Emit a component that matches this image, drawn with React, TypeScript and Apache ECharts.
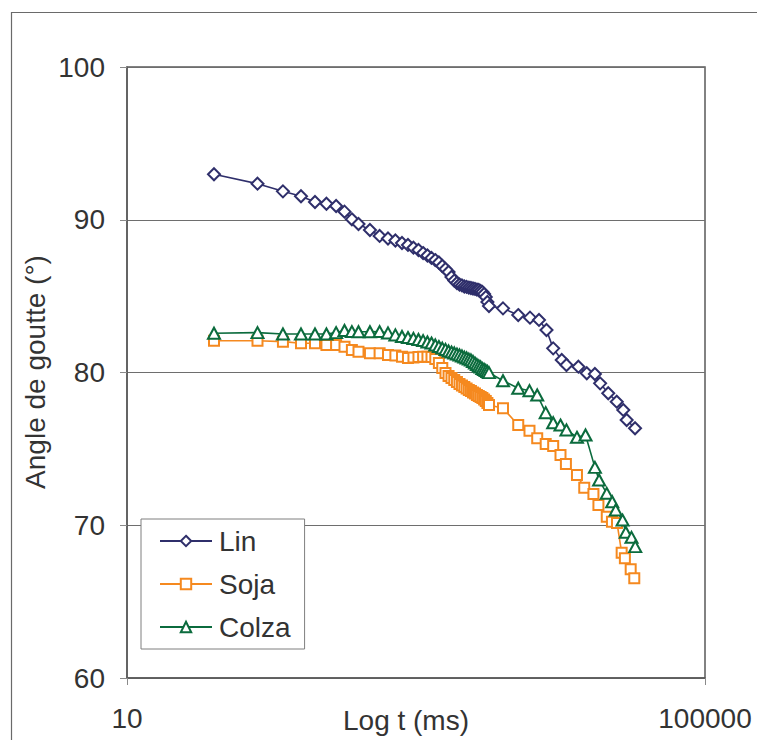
import React, { useEffect, useRef } from "react";
import * as echarts from "echarts";

const seriesNames = ["Lin", "Soja", "Colza"];
const xTickValues = [10, 100000];
const yTicks = { min: 60, max: 100, interval: 10 };

// shared sampling times (ms) of the early, dense part of every curve
const denseTimes = [40, 80, 120, 160, 200, 240, 280, 320, 360, 400, 480, 560, 640, 720, 800, 880, 960, 1040, 1120, 1200, 1280, 1360, 1440, 1520, 1600, 1680, 1760, 1840, 1920, 2000, 2080, 2160, 2240, 2320, 2400, 2480, 2560, 2640, 2720, 2800, 2880, 2960, 3040, 3120, 3200];

const linDense = [92.98, 92.36, 91.86, 91.54, 91.16, 91.05, 90.9, 90.53, 90.03, 89.72, 89.33, 88.94, 88.77, 88.64, 88.48, 88.35, 88.17, 88.02, 87.82, 87.66, 87.5, 87.36, 87.2, 86.97, 86.78, 86.58, 86.25, 86.02, 85.86, 85.76, 85.7, 85.63, 85.6, 85.56, 85.53, 85.5, 85.47, 85.43, 85.4, 85.34, 85.27, 85.14, 84.94, 84.62, 84.35];
const linTailTimes = [4000, 5100, 6150, 7100, 8000, 8900, 10200, 11000, 13300, 15200, 17300, 18800, 21400, 24500, 27200, 28700, 32800];
const linTailValues = [84.2, 83.76, 83.59, 83.44, 82.78, 81.58, 80.82, 80.49, 80.38, 79.95, 79.9, 79.29, 78.64, 78.09, 77.55, 76.89, 76.35];

const sojaDense = [82.08, 82.08, 82.02, 81.91, 81.91, 81.8, 81.8, 81.69, 81.47, 81.36, 81.26, 81.26, 81.15, 81.11, 81.03, 80.95, 80.98, 81.01, 81.03, 81.03, 81.01, 80.88, 80.62, 80.29, 79.97, 79.77, 79.64, 79.51, 79.38, 79.25, 79.15, 79.05, 78.95, 78.85, 78.79, 78.69, 78.63, 78.53, 78.46, 78.4, 78.33, 78.23, 78.13, 78.0, 77.87];
const sojaTailTimes = [4000, 5100, 6100, 6900, 7900, 8900, 10000, 10900, 13000, 14600, 16900, 18300, 20900, 22700, 24600, 26500, 27900, 30600, 32400];
const sojaTailValues = [77.66, 76.56, 76.19, 75.69, 75.32, 75.19, 74.6, 74.01, 73.29, 72.46, 72.05, 71.33, 70.56, 70.23, 70.15, 68.2, 67.84, 67.12, 66.53];

const colzaDense = [82.57, 82.61, 82.52, 82.52, 82.52, 82.52, 82.61, 82.75, 82.68, 82.67, 82.67, 82.68, 82.59, 82.46, 82.36, 82.29, 82.23, 82.16, 82.09, 82.0, 81.93, 81.8, 81.7, 81.6, 81.51, 81.41, 81.34, 81.28, 81.21, 81.15, 81.08, 81.01, 80.95, 80.88, 80.82, 80.72, 80.62, 80.52, 80.43, 80.36, 80.26, 80.2, 80.13, 80.07, 79.99];
const colzaTailTimes = [4000, 5100, 6100, 6900, 7900, 8900, 10000, 11000, 13000, 14900, 17300, 18500, 20900, 22800, 24100, 26900, 28300, 31000, 32900];
const colzaTailValues = [79.46, 78.97, 78.81, 78.53, 77.37, 76.71, 76.56, 76.24, 75.76, 75.91, 73.79, 72.96, 72.09, 71.54, 71.0, 70.34, 69.54, 69.21, 68.6];

const pairs = (t: number[], v: number[]) => t.map((x, i) => [x, v[i]]);

const FONT = "'Liberation Sans', Arial, sans-serif";
const TEXT = "#333333";
const AXIS = "#5a5a5a";

export default function App() {
  const ref = useRef<HTMLDivElement>(null);
  useEffect(() => {
    if (!ref.current) return;
    const chart = echarts.init(ref.current, null, { renderer: "svg" });
    const mk = (name: string, data: number[][], color: string, symbol: string, size: number[]) => ({
      name,
      type: "line",
      data,
      symbol,
      symbolSize: size,
      showAllSymbol: true,
      lineStyle: { color, width: 1.6 },
      itemStyle: { color: "#ffffff", borderColor: color, borderWidth: 2 },
      emphasis: { disabled: true },
    });
    chart.setOption({
      animation: false,
      backgroundColor: "#ffffff",
      textStyle: { fontFamily: FONT },
      grid: { left: 127, top: 67, width: 578, height: 611, show: true, borderColor: AXIS, borderWidth: 1.5, backgroundColor: "transparent" },
      legend: {
        orient: "vertical",
        left: 141,
        top: 519,
        padding: [8, 14, 8, 18],
        itemWidth: 52,
        itemHeight: 13,
        itemGap: 15,
        backgroundColor: "#ffffff",
        borderColor: "#7f7f7f",
        borderWidth: 1,
        borderRadius: 0,
        textStyle: { fontSize: 28, color: TEXT, fontFamily: FONT, padding: [0, 0, 0, 2] },
        data: seriesNames,
      },
      xAxis: {
        type: "log",
        logBase: 10,
        min: xTickValues[0],
        max: xTickValues[1],
        axisLine: { lineStyle: { color: AXIS, width: 1.5 } },
        axisTick: { show: true, inside: false, length: 7, lineStyle: { color: "#8a8a8a" }, customValues: xTickValues },
        axisLabel: { customValues: xTickValues, fontSize: 28, color: TEXT, margin: 26, fontFamily: FONT, formatter: (v: number) => String(v) },
        splitLine: { show: false },
        minorTick: { show: false },
      },
      yAxis: {
        type: "value",
        min: yTicks.min,
        max: yTicks.max,
        interval: yTicks.interval,
        axisLine: { show: true, lineStyle: { color: AXIS, width: 1.5 } },
        axisTick: { show: true, inside: false, length: 7, lineStyle: { color: "#8a8a8a" } },
        axisLabel: { fontSize: 28, color: TEXT, margin: 22, fontFamily: FONT },
        splitLine: { show: true, lineStyle: { color: "#6e6e6e", width: 1.2 } },
      },
      graphic: [
        { type: "rect", silent: true, z: -10, shape: { x: 11.5, y: 12.5, width: 800, height: 800 }, style: { fill: "none", stroke: "#6a6a6a", lineWidth: 1.2 } },
        { type: "text", x: 35, y: 372, rotation: Math.PI / 2, style: { text: "Angle de goutte (°)", font: `28px ${FONT}`, fill: TEXT, textAlign: "center", textVerticalAlign: "middle" } },
        { type: "text", x: 406, y: 720, style: { text: "Log t (ms)", font: `28px ${FONT}`, fill: TEXT, textAlign: "center", textVerticalAlign: "middle" } },
      ],
      series: [
        mk("Lin", pairs(denseTimes.concat(linTailTimes), linDense.concat(linTailValues)), "#2f2f6b", "diamond", [12, 12]),
        mk("Soja", pairs(denseTimes.concat(sojaTailTimes), sojaDense.concat(sojaTailValues)), "#f5891f", "rect", [10, 10]),
        mk("Colza", pairs(denseTimes.concat(colzaTailTimes), colzaDense.concat(colzaTailValues)), "#0b6b3d", "triangle", [12, 11]),
      ],
    });
    return () => chart.dispose();
  }, []);
  return <div ref={ref} style={{ position: "fixed", left: 0, top: 0, width: 757, height: 740 }} />;
}
